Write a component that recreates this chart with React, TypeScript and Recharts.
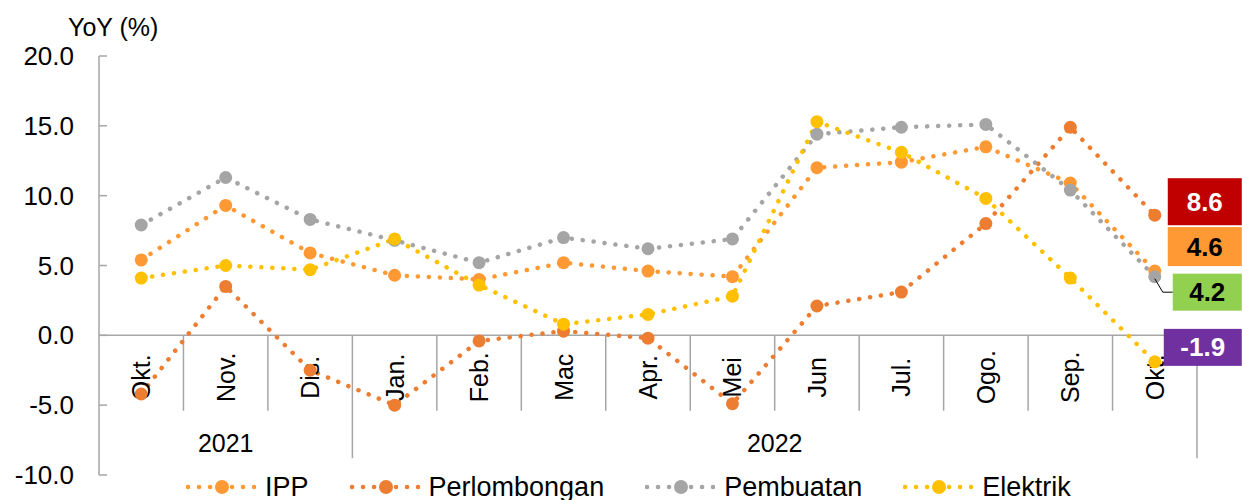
import {
  LabelList,
  Legend,
  Line,
  LineChart,
  ReferenceDot,
  ReferenceLine,
  XAxis,
  YAxis,
} from 'recharts';

const months = ['Okt.', 'Nov.', 'Dis.', 'Jan.', 'Feb.', 'Mac', 'Apr.', 'Mei', 'Jun', 'Jul.', 'Ogo.', 'Sep.', 'Okt.'];
const years = [
  { label: '2021', from: 0, to: 3 },
  { label: '2022', from: 3, to: 13 },
];

const ipp = [5.4, 9.3, 5.9, 4.3, 4.0, 5.2, 4.6, 4.2, 12.0, 12.4, 13.5, 10.9, 4.6];
const perlombongan = [-4.2, 3.5, -2.5, -5.0, -0.4, 0.3, -0.2, -4.9, 2.1, 3.1, 8.0, 14.9, 8.6];
const pembuatan = [7.9, 11.3, 8.3, 6.8, 5.2, 7.0, 6.2, 6.9, 14.4, 14.9, 15.1, 10.4, 4.2];
const elektrik = [4.1, 5.0, 4.7, 6.9, 3.6, 0.8, 1.5, 2.8, 15.3, 13.1, 9.8, 4.1, -1.9];

const yTicks = [-10, -5, 0, 5, 10, 15, 20];

// where the decorations sit, in y-axis units
const MONTH_LABEL_Y = -3.0;
const YEAR_LABEL_Y = -7.7;
const SEP_BOTTOM = -5.4;
const YEAR_SEP_BOTTOM = -8.8;

const FONT = '"Liberation Sans", Arial, sans-serif';
const AXIS_GREY = '#A6A6A6';

const rows = months.map((month, i) => ({
  pos: i + 0.5,
  month,
  ipp: ipp[i],
  perlombongan: perlombongan[i],
  pembuatan: pembuatan[i],
  elektrik: elektrik[i],
}));

type Series = {
  key: string;
  name: string;
  color: string;
  box: { fill: string; text: string; dx: number; dy: number; w: number; h: number; leader?: boolean };
};

const series: Series[] = [
  { key: 'ipp', name: 'IPP', color: '#FF9933', box: { fill: '#FF9933', text: '#000', dx: 13, dy: -44, w: 74, h: 39 } },
  { key: 'perlombongan', name: 'Perlombongan', color: '#ED7D31', box: { fill: '#C00000', text: '#fff', dx: 13, dy: -37, w: 74, h: 47 } },
  { key: 'pembuatan', name: 'Pembuatan', color: '#A5A5A5', box: { fill: '#92D050', text: '#000', dx: 18, dy: -3, w: 69, h: 37, leader: true } },
  { key: 'elektrik', name: 'Elektrik', color: '#FFC000', box: { fill: '#7030A0', text: '#fff', dx: 9, dy: -33, w: 78, h: 37 } },
];

function EndLabel(props: any) {
  const { index, value, cfg } = props;
  if (index !== months.length - 1) return null;
  const x = props.x ?? props.viewBox?.x;
  const y = props.y ?? props.viewBox?.y;
  const b = cfg.box;
  const bx = x + b.dx;
  const by = y + b.dy;
  return (
    <g>
      {b.leader && (
        <polyline
          points={`${x},${y + 2} ${x + 8},${by + b.h / 2} ${bx},${by + b.h / 2}`}
          fill="none"
          stroke="#000"
          strokeWidth={1}
        />
      )}
      <rect x={bx} y={by} width={b.w} height={b.h} fill={b.fill} />
      <text
        x={bx + b.w / 2}
        y={by + b.h / 2}
        textAnchor="middle"
        dominantBaseline="central"
        fontFamily={FONT}
        fontWeight="bold"
        fontSize={26}
        fill={b.text}
      >
        {Number(value).toFixed(1)}
      </text>
    </g>
  );
}

function YTick({ x, y, payload }: any) {
  return (
    <g>
      <text x={x} y={y} textAnchor="end" dominantBaseline="central" fontFamily={FONT} fontSize={26} fill="#000">
        {Number(payload.value).toFixed(1)}
      </text>
      <line x1={x + 25} x2={x + 33} y1={y} y2={y} stroke={AXIS_GREY} strokeWidth={1.5} />
    </g>
  );
}

function MonthLabel({ viewBox, text }: any) {
  const { x, y } = viewBox;
  return (
    <text
      x={x}
      y={y}
      transform={`rotate(-90 ${x} ${y})`}
      textAnchor="middle"
      dominantBaseline="central"
      fontFamily={FONT}
      fontSize={25}
      fill="#000"
    >
      {text}
    </text>
  );
}

function YearLabel({ viewBox, text }: any) {
  return (
    <text x={viewBox.x} y={viewBox.y} textAnchor="middle" dominantBaseline="central" fontFamily={FONT} fontSize={25} fill="#000">
      {text}
    </text>
  );
}

function LegendContent() {
  return (
    <div style={{ display: 'flex', alignItems: 'center', height: 30, paddingLeft: 186, fontFamily: FONT, fontSize: 27 }}>
      {series.map((s) => (
        <div key={s.key} style={{ display: 'flex', alignItems: 'center', marginRight: 41 }}>
          <svg width={70} height={30}>
            <line x1={2} x2={68} y1={15} y2={15} stroke={s.color} strokeWidth={4.5} strokeDasharray="0.1 10.9" strokeLinecap="round" />
            <circle cx={36} cy={15} r={7} fill={s.color} />
          </svg>
          <span style={{ marginLeft: 9, color: '#000', lineHeight: '30px' }}>{s.name}</span>
        </div>
      ))}
    </div>
  );
}

const boundaries = Array.from({ length: months.length - 1 }, (_, i) => i + 1);
const yearEnds = years.map((yr) => yr.to);

export default function App() {
  return (
    <div style={{ position: 'absolute', left: 0, top: 0 }}>
      <LineChart width={1242} height={500} data={rows} margin={{ top: 56, right: 45, bottom: 25, left: 0 }}>
        <XAxis type="number" dataKey="pos" domain={[0, months.length]} hide />
        <YAxis
          domain={[-10, 20]}
          ticks={yTicks}
          width={99}
          axisLine={{ stroke: AXIS_GREY, strokeWidth: 1.5 }}
          tickLine={false}
          tickSize={0}
          tickMargin={25}
          tick={<YTick />}
          interval={0}
          label={({ viewBox }: any) => (
            <text x={viewBox.x + 68} y={viewBox.y - 20} fontFamily={FONT} fontSize={25} fill="#000">
              YoY (%)
            </text>
          )}
        />
        <ReferenceLine y={0} stroke={AXIS_GREY} strokeWidth={1.5} />
        {boundaries
          .filter((b) => !yearEnds.includes(b))
          .map((b) => (
            <ReferenceLine key={'sep' + b} segment={[{ x: b, y: 0 }, { x: b, y: SEP_BOTTOM }]} stroke={AXIS_GREY} strokeWidth={1.5} />
          ))}
        {yearEnds.map((b) => (
          <ReferenceLine key={'ysep' + b} segment={[{ x: b, y: 0 }, { x: b, y: YEAR_SEP_BOTTOM }]} stroke={AXIS_GREY} strokeWidth={1.5} />
        ))}
        {series.map((s) => (
          <Line
            key={s.key}
            type="linear"
            dataKey={s.key}
            name={s.name}
            stroke={s.color}
            strokeWidth={4.5}
            strokeDasharray="0.1 10.9"
            strokeLinecap="round"
            dot={{ r: 6.5, fill: s.color, stroke: 'none', strokeDasharray: '0' }}
            activeDot={false}
            isAnimationActive={false}
          >
            <LabelList dataKey={s.key} content={<EndLabel cfg={s} />} />
          </Line>
        ))}
        {months.map((m, i) => (
          <ReferenceDot key={'m' + i} x={i + 0.5} y={MONTH_LABEL_Y} r={0} fill="none" stroke="none" label={<MonthLabel text={m} />} />
        ))}
        {years.map((yr) => (
          <ReferenceDot
            key={yr.label}
            x={(yr.from + yr.to) / 2}
            y={YEAR_LABEL_Y}
            r={0}
            fill="none"
            stroke="none"
            label={<YearLabel text={yr.label} />}
          />
        ))}
        <Legend verticalAlign="middle" wrapperStyle={{ top: 472, left: 0, width: 1242, height: 30 }} content={() => <LegendContent />} />
      </LineChart>
    </div>
  );
}
